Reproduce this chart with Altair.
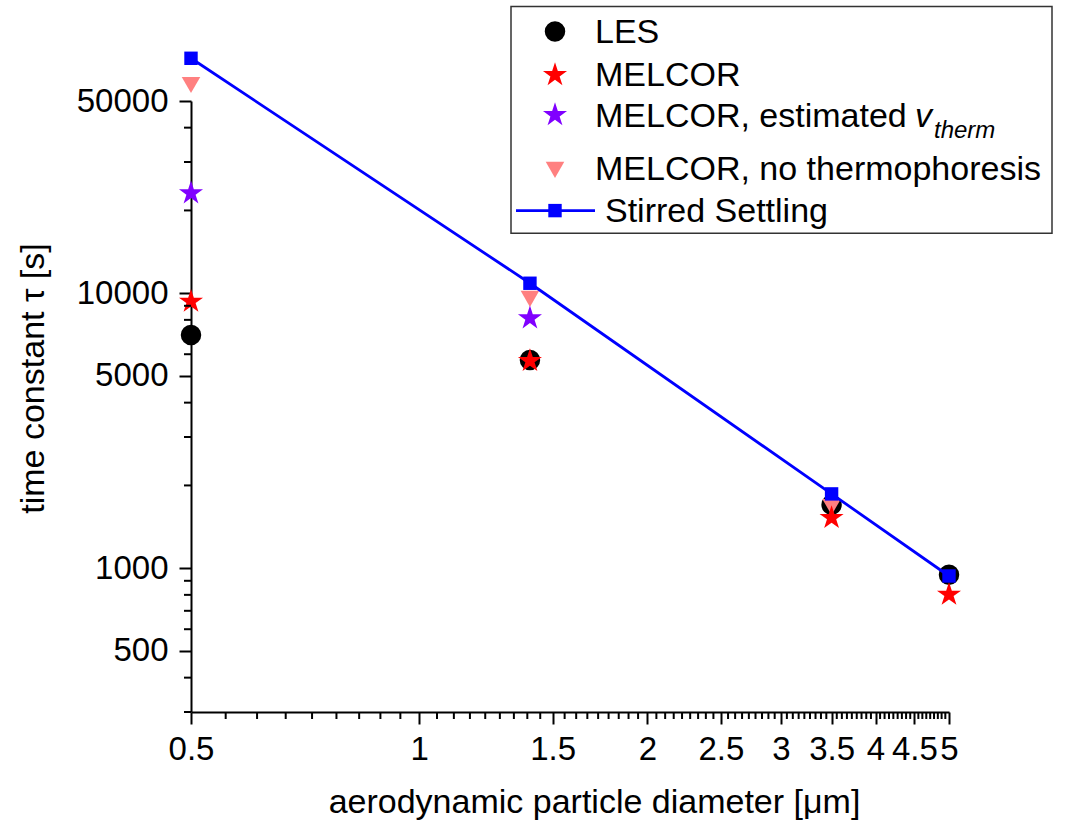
import altair as alt
import pandas as pd

# ---- data ----
diam_les = [0.5, 1.4, 3.5, 5.0]
tau_les = [7050, 5720, 1700, 946]

diam_melcor = [0.5, 1.4, 3.5, 5.0]
tau_melcor = [9320, 5675, 1525, 802]

diam_est = [0.5, 1.4]
tau_est = [23100, 8110]

diam_nothermo = [0.5, 1.4, 3.5]
tau_nothermo = [57200, 9535, 1670]

diam_stirred = [0.5, 1.4, 3.5, 5.0]
tau_stirred = [71500, 10870, 1863, 937]

# ---- axis ticks ----
x_major = [0.5, 1, 1.5, 2, 2.5, 3, 3.5, 4, 4.5, 5]
x_minor = [a + (b - a) * k / 9 for a, b in zip(x_major[:-1], x_major[1:]) for k in range(1, 9)]
y_major = [500, 1000, 5000, 10000, 50000]
y_minor = [300, 400, 600, 700, 800, 900, 2000, 3000, 4000, 6000, 7000, 8000, 9000,
           20000, 30000, 40000]

legend_labels = ["LES", "MELCOR", "MELCOR, estimated", "MELCOR, no thermophoresis",
                 "Stirred Settling"]

FONT = "Liberation Sans"
W, H = 758, 611
BLUE = "#0000FF"
RED = "#FF0000"
PURPLE = "#8000FF"
SALMON = "#FF8080"

STAR = ("M0,-1 L0.2245,-0.309 L0.9511,-0.309 L0.3633,0.118 L0.5878,0.809 "
        "L0,0.382 L-0.5878,0.809 L-0.3633,0.118 L-0.9511,-0.309 L-0.2245,-0.309 Z")
STAR_SIZE = 640

xs = alt.Scale(type="log", domain=[0.5, 5], nice=False, zero=False)
ys = alt.Scale(type="log", domain=[300, 50000], nice=False, zero=False)

x_axis = alt.Axis(values=x_major, format=".10~g", tickSize=12, tickWidth=2,
                  tickColor="black", domainColor="black", domainWidth=2,
                  labelFont=FONT, labelFontSize=33, labelColor="black",
                  labelPadding=9, labelOverlap=False, labelFlush=False,
                  labelBound=False, grid=False,
                  title="aerodynamic particle diameter [μm]", titleFont=FONT,
                  titleFontSize=34, titleFontWeight="normal", titleColor="black",
                  titleX=403, titleY=100, titleAlign="center",
                  titleBaseline="alphabetic")
y_axis = alt.Axis(values=y_major, format="d", tickSize=12, tickWidth=2,
                  tickColor="black", domainColor="black", domainWidth=2,
                  labelFont=FONT, labelFontSize=33, labelColor="black",
                  labelPadding=11, labelOverlap=False, labelFlush=False,
                  labelBound=False, grid=False,
                  title="time constant τ [s]", titleFont=FONT, titleFontSize=34,
                  titleFontWeight="normal", titleColor="black", titleX=-148,
                  titleY=277, titleAngle=270, titleAlign="center",
                  titleBaseline="alphabetic")

X = alt.X("d:Q", scale=xs, axis=x_axis)
Y = alt.Y("tau:Q", scale=ys, axis=y_axis)


def df(x, y):
    return pd.DataFrame({"d": x, "tau": y})


les = alt.Chart(df(diam_les, tau_les)).mark_point(
    shape="circle", filled=True, color="black", size=420, opacity=1).encode(x=X, y=Y)
nothermo = alt.Chart(df(diam_nothermo, tau_nothermo)).mark_point(
    shape="triangle-down", filled=True, color=SALMON, size=345, opacity=1).encode(x=X, y=Y)
est = alt.Chart(df(diam_est, tau_est)).mark_point(
    shape=STAR, filled=True, color=PURPLE, size=STAR_SIZE, opacity=1).encode(x=X, y=Y)
melcor = alt.Chart(df(diam_melcor, tau_melcor)).mark_point(
    shape=STAR, filled=True, color=RED, size=STAR_SIZE, opacity=1).encode(x=X, y=Y)
stirred_line = alt.Chart(df(diam_stirred, tau_stirred)).mark_line(
    color=BLUE, strokeWidth=2.8).encode(x=X, y=Y)
stirred_pts = alt.Chart(df(diam_stirred, tau_stirred)).mark_point(
    shape="square", filled=True, color=BLUE, size=180, opacity=1).encode(x=X, y=Y)

# minor ticks drawn through the same scales
x_minor_ticks = alt.Chart(pd.DataFrame({"d": x_minor})).mark_rule(
    color="black", strokeWidth=2).encode(
    x=alt.X("d:Q", scale=xs, axis=x_axis), y=alt.value(H), y2=alt.value(H + 7))
y_minor_ticks = alt.Chart(pd.DataFrame({"tau": y_minor})).mark_rule(
    color="black", strokeWidth=2).encode(
    y=alt.Y("tau:Q", scale=ys, axis=y_axis), x=alt.value(0), x2=alt.value(-7))

# ---- hand-built legend (box, symbols, labels) ----
one = pd.DataFrame({"a": [0]})
leg_box = alt.Chart(one).mark_rect(fill="white", stroke="#333333", strokeWidth=1.5).encode(
    x=alt.value(320), x2=alt.value(861), y=alt.value(-94.4), y2=alt.value(132.2))


def leg_sym(shape, color, size, y):
    return alt.Chart(one).mark_point(shape=shape, filled=True, color=color, size=size,
                                     opacity=1).encode(x=alt.value(364), y=alt.value(y))


def leg_text(txt, x, y, size=34, style="normal"):
    return alt.Chart(one).mark_text(align="left", baseline="alphabetic", font=FONT,
                                    fontSize=size, fontStyle=style, color="black").encode(
        x=alt.value(x), y=alt.value(y), text=alt.value(txt))


legend_layers = [
    leg_box,
    leg_sym("circle", "black", 420, -69.4),
    leg_text(legend_labels[0], 404, -58.4),
    leg_sym(STAR, RED, STAR_SIZE, -26.1),
    leg_text(legend_labels[1], 404, -15.1),
    leg_sym(STAR, PURPLE, STAR_SIZE, 13.9),
    leg_text(legend_labels[2], 404, 25.6),
    leg_text("v", 724, 25.6, style="italic"),
    leg_text("therm", 743, 36.9, size=24, style="italic"),
    leg_sym("triangle-down", SALMON, 345, 68.9),
    leg_text(legend_labels[3], 404, 78.9),
    alt.Chart(one).mark_rule(color=BLUE, strokeWidth=2.8).encode(
        x=alt.value(325), x2=alt.value(404), y=alt.value(109.6)),
    leg_sym("square", BLUE, 180, 109.6),
    leg_text(legend_labels[4], 414, 120.6),
]

chart = alt.layer(
    les, nothermo, est, melcor, stirred_line, stirred_pts,
    x_minor_ticks, y_minor_ticks, *legend_layers
).properties(
    width=W, height=H,
    autosize=alt.AutoSizeParams(type="none"),
    padding={"left": 191, "top": 101, "right": 118, "bottom": 110},
    background="white",
).configure_view(stroke=None)

chart.save("out.html", embed_options={"renderer": "svg", "actions": False})
